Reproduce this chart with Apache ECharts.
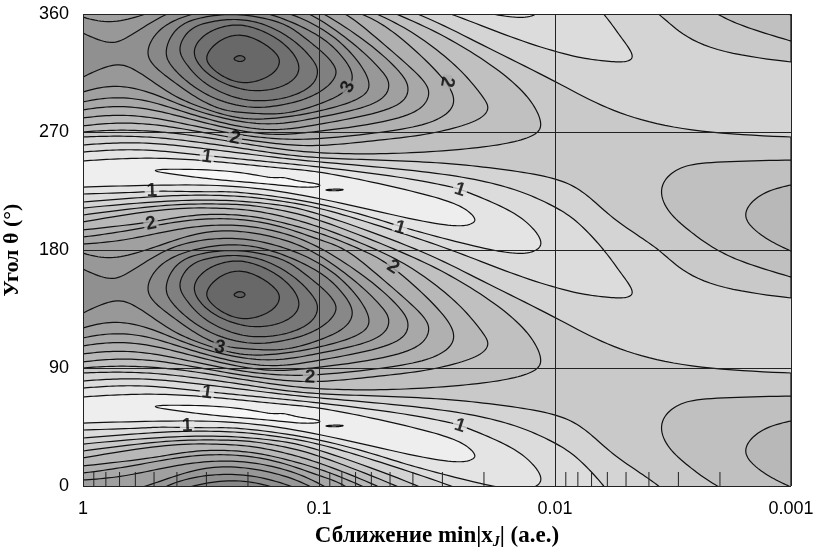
<!DOCTYPE html>
<html><head><meta charset="utf-8">
<style>html,body{margin:0;padding:0;background:#fff}#c{width:815px;height:550px}</style>
<script src="https://cdn.jsdelivr.net/npm/echarts@6/dist/echarts.min.js"></script>
</head><body><div id="c"></div>
<script>
// Contours. Each point = [decades below 1 a.e., angle in degrees].
const O0 = [[.64,146.4],[.665,148.7],[.691,146.1],[.669,143.4],[.644,144.9]];
const O1 = [[.521,148],[.568,158.6],[.653,164.7],[.742,160.2],[.814,151],[.835,143.4],[.809,135],[.742,128.9],[.665,127.4],[.589,132.7],[.538,140.3]];
const O2 = [[.462,151],[.517,164.7],[.602,170.8],[.686,171.6],[.792,164.7],[.877,153.3],[.919,140.3],[.894,129.7],[.814,122.8],[.708,121.3],[.602,126.6],[.517,135.8]];
const O3 = [[.403,153.3],[.453,168.6],[.538,173.9],[.644,176.2],[.771,172.4],[.898,159.4],[.975,144.9],[.996,135.8],[.97,125.1],[.877,116.7],[.758,113.6],[.644,115.9],[.517,126.6],[.445,140.3]];
const O4 = [[.347,151.8],[.398,170.1],[.508,177.7],[.665,180],[.835,173.9],[.919,164.7],[1.004,152.5],[1.047,144.9],[1.076,136.5],[1.055,128.1],[1.004,120.5],[.919,113.6],[.792,109.1],[.686,109.1],[.559,115.2],[.453,126.6],[.377,139.6]];
const O5 = [[.271,149.5],[.297,162.5],[.369,173.9],[.496,181.5],[.665,184.6],[.835,177.7],[1.004,163.2],[1.089,149.5],[1.148,133.5],[1.11,120.5],[1.004,111.4],[.856,103.7],[.708,104.5],[.589,106.8],[.475,116.7],[.369,130.4],[.305,139.6]];
const C6 = [[0,165.5],[.114,157.1],[.199,163.2],[.347,180],[.496,187.6],[.665,189.1],[.835,183],[1.004,170.1],[1.131,151.8],[1.22,128.1],[1.174,115.2],[1.004,106],[.835,100.7],[.665,99.9],[.496,109.1],[.369,119],[.22,138],[.127,141.9],[0,131.9]];
const C7 = [[0,177.7],[.114,173.1],[.271,180],[.453,191.4],[.623,195.3],[.835,189.1],[1.004,176.2],[1.174,153.3],[1.258,138],[1.301,126.6],[1.25,111.4],[1.004,101.4],[.835,96.1],[.665,97.6],[.453,107.5],[.284,120.5],[.127,125.8],[0,120.5]];
const C8 = [[0,184.6],[.157,186.9],[.339,193.7],[.496,198.3],[.665,199.1],[.835,193.7],[1.004,182.3],[1.216,157.1],[1.343,135.8],[1.381,122.8],[1.322,107.5],[1.004,96.1],[.835,91.5],[.665,93.8],[.453,103.7],[.284,113.6],[.127,116.7],[0,112.9]];
const C9 = [[0,189.9],[.157,193.7],[.339,199.8],[.496,203.6],[.665,203.6],[.835,198.3],[1.004,187.6],[1.118,180],[1.258,159.4],[1.428,132.7],[1.47,119],[1.407,103.7],[1.174,94.6],[1.004,90.8],[.835,87.7],[.665,90.8],[.453,99.9],[.284,107.5],[.127,109.8],[0,106.8]];
const C10 = [[0,195.3],[.263,200.6],[.411,205.2],[.551,207.5],[.708,205.9],[.835,201.4],[1.004,193],[1.182,180],[1.314,167],[1.513,134.2],[1.58,113.6],[1.513,99.9],[1.343,91.5],[1.004,84.7],[.835,84.7],[.665,87.7],[.453,95.3],[.284,101.4],[.127,103],[0,100.7]];
const C11 = [[0,201.4],[.339,211.3],[.551,212],[.708,210.5],[.856,205.2],[1.004,197.5],[1.25,180],[1.428,162.5],[1.597,138],[1.691,117.5],[1.72,107.5],[1.661,97.6],[1.47,88.5],[1.258,83.9],[1.004,79.3],[.835,80.8],[.665,84.7],[.453,91.5],[.284,96.1],[.127,96.9],[0,94.6]];
const C12 = [[0,206.7],[.339,214.3],[.551,215.1],[.708,214.3],[.856,209.7],[1.004,202.9],[1.331,180],[1.555,160.9],[1.767,136.5],[1.894,115.2],[1.945,96.1],[1.907,86.9],[1.767,80.1],[1.525,75.5],[1.258,73.2],[1.004,74],[.835,77],[.665,81.6],[.453,87.7],[.284,90.8],[.127,91.5],[0,90]];
const BCupper = [[0,212],[.339,217.4],[.606,218.1],[.835,214.3],[1.004,207.5],[1.428,180],[1.682,157.1],[2,128.9],[2.242,106],[2.564,90.8],[3,86.2]];
const BClower = [[3,-36.6],[2.636,-26.7],[2.466,-3.8],[2.394,6.1],[2.242,24.4],[2.127,43.5],[2,54.9],[1.767,61.8],[1.525,66.4],[1.258,68.6],[1.004,70.2],[.835,73.2],[.665,77.8],[.453,83.1],[.284,86.2],[.127,86.9],[0,86.2]];
const R1 = [[3,68.6],[2.665,67.1],[2.521,62.5],[2.445,48],[2.479,29],[2.593,11.4],[2.686,0],[2.805,-9.9],[3,-20.6]];
const R2 = [[3,49.6],[2.877,43.5],[2.801,29],[2.835,16.8],[2.919,6.1],[3,-.8]];
const A = [[0,80.1],[.127,81.6],[.284,81.6],[.453,78.6],[.665,74],[.835,70.2],[1.004,67.1],[1.343,61.8],[1.64,54.9],[1.852,45],[2,32.8],[2.097,21.4],[2.208,0],[2.275,-16.8],[2.335,-32],[2.297,-36.6],[2.212,-35.8],[2.064,-32],[1.809,-17.5],[1.564,0],[1.258,18.3],[1.004,32],[.835,37.4],[.665,41.2],[.453,41.9],[.271,40.4],[0,36.6]];
const F1 = [[0,74.7],[.127,76.3],[.284,76.3],[.496,72.5],[.665,69.4],[.835,66.4],[1.004,63.3],[1.343,55.7],[1.564,48],[1.627,44.2],[1.809,30.5],[1.907,16.8],[1.945,5.3],[1.915,-.8],[1.839,-3],[1.669,2.3],[1.381,16],[1.314,19.8],[1.004,35.8],[.665,44.2],[.551,44.2],[.326,45],[.263,44.2],[0,42.7]];
const F2 = [[0,67.9],[.127,69.4],[.326,70.2],[.538,67.9],[.708,64.8],[.877,61.8],[1.004,59.5],[1.246,51.1],[1.525,38.9],[1.627,30.5],[1.665,22.9],[1.64,19.8],[1.597,18.3],[1.441,21.4],[1,39.7],[.665,48.8],[.339,49.6],[0,48]];
const F3 = [[.292,60.3],[.369,61.8],[.636,60.3],[.792,54.9],[.847,55.7],[.907,52.6],[1.004,50.3],[.992,48],[.907,48],[.792,50.3],[.581,53.4],[.441,56.4]];
const F3b = [[1.021,45.8],[1.068,46.5],[1.11,46.1],[1.068,45]];

const basinOffsets = [-180, 0, 180, 360];
const ridgeOffsets = [0, 180, 360];
const xTickValues = [1, 0.1, 0.01, 0.001];
const yTicks = [0, 90, 180, 270, 360];
const minorTicks = [.9,.8,.7,.6,.5,.4,.3,.2,.09,.08,.07,.06,.05,.04,.03,.02,.009,.008,.007,.006,.005,.004,.003,.002];

// [contour level, gray of the band inside, runs, closed loop?, offsets]
const layers = [
  [1.4,'#c9c9c9',[BCupper,BClower],false,basinOffsets],
  [1.6,'#c0c0c0',[R1],false,basinOffsets],
  [1.8,'#b8b8b8',[R2],false,basinOffsets],
  [1.6,'#c0c0c0',[C12],false,basinOffsets],
  [1.8,'#b8b8b8',[C11],false,basinOffsets],
  [2.0,'#b0b0b0',[C10],false,basinOffsets],
  [2.2,'#a8a8a8',[C9],false,basinOffsets],
  [2.4,'#a0a0a0',[C8],false,basinOffsets],
  [2.6,'#989898',[C7],false,basinOffsets],
  [2.8,'#909090',[C6],false,basinOffsets],
  [3.0,'#888888',[O5],true,basinOffsets],
  [3.2,'#808080',[O4],true,basinOffsets],
  [3.4,'#787878',[O3],true,basinOffsets],
  [3.6,'#707070',[O2],true,basinOffsets],
  [3.8,'#686868',[O1],true,basinOffsets],
  [4.0,'#606060',[O0],true,basinOffsets],
  [1.2,'#dcdcdc',[A],false,ridgeOffsets],
  [1.0,'#e4e4e4',[F1],false,ridgeOffsets],
  [0.8,'#eeeeee',[F2],false,ridgeOffsets],
  [0.6,'#f7f7f7',[F3],true,ridgeOffsets],
  [0.6,'#f7f7f7',[F3b],true,ridgeOffsets]
];
const contourItems = [];
layers.forEach(l => l[4].forEach(off => contourItems.push({runs:l[2],closed:l[3],fill:l[1],off})));

// contour labels: text, decades, angle, rotation, band gray behind
const labelTexts = ['3','2','2','1','1','2','1','1','2','3','2','1','1','1'];
const labelDecades = [1.123,1.542,.644,.525,.292,.288,1.597,1.343,1.314,.58,.962,.525,.441,1.597];
const labelAngles = [304.3,308.2,265.4,251,225.2,200,225.8,196.8,167,105.6,83,71.2,45.8,45.8];
const labelRotations = [65,-100,-12,-8,2,12,-18,-16,-32,-12,-3,-8,2,-18];
const labelBacks = ['#8c8c8c','#acacac','#acacac','#e0e0e0','#e2e2e2','#b0b0b0','#e0e0e0','#e2e2e2','#acacac','#8a8a8a','#b0b0b0','#e0e0e0','#e2e2e2','#e0e0e0'];

function spline(p, closed) {
  const n = p.length, raw = [], S = 10;
  const g = i => closed ? p[(i + n) % n] : p[Math.max(0, Math.min(n - 1, i))];
  const segs = closed ? n : n - 1;
  for (let i = 0; i < segs; i++) {
    const a = g(i - 1), b = g(i), c = g(i + 1), d = g(i + 2);
    for (let k = 0; k < S; k++) {
      const t = k / S, t2 = t * t, t3 = t2 * t;
      raw.push([0, 1].map(j =>
        0.5 * (2 * b[j] + (c[j] - a[j]) * t + (2 * a[j] - 5 * b[j] + 4 * c[j] - d[j]) * t2 + (3 * b[j] - a[j] - 3 * c[j] + d[j]) * t3)));
    }
  }
  if (!closed) raw.push(p[n - 1]);
  // round the drawn curve with a short moving average of its samples
  let cur = raw;
  const m = cur.length, W = 4;
  for (let pass = 0; pass < 2; pass++) {
    cur = cur.map((q, i) => {
      if (!closed && (i === 0 || i === m - 1)) return q;
      let w = closed ? W : Math.min(W, i, m - 1 - i), sx = 0, sy = 0, c = 0;
      for (let k = -w; k <= w; k++) { const r = cur[(i + k + m) % m]; sx += r[0]; sy += r[1]; c++; }
      return [sx / c, sy / c];
    });
  }
  return cur;
}
const toX = d => Math.pow(10, -d);

const chart = echarts.init(document.getElementById('c'), null, {renderer:'canvas'});
const serif = '"Liberation Serif","Times New Roman",serif';
const sans = '"Liberation Sans",Arial,sans-serif';
chart.setOption({
  animation:false,
  backgroundColor:'#fff',
  grid:{left:83,right:24,top:14,bottom:64,show:true,backgroundColor:'#d4d4d4',borderWidth:0,outerBoundsMode:'none',containLabel:false},
  xAxis:{type:'log',logBase:10,min:0.001,max:1,inverse:true,z:5,
    axisLine:{show:false},axisTick:{show:false},minorTick:{show:false},
    splitLine:{show:true,showMinLine:true,showMaxLine:true,lineStyle:{color:'#222',width:1}},
    axisLabel:{color:'#000',fontFamily:sans,fontSize:18,margin:14,showMinLabel:true,showMaxLabel:true,hideOverlap:false,
      formatter:v=>{const m=xTickValues.find(t=>Math.abs(Math.log10(t)-Math.log10(v))<1e-6);return m===undefined?'':String(m);}},
    name:'{a|Сближение min|x}{j|J}{a|| (а.е.)}',nameLocation:'middle',nameGap:38,
    nameTextStyle:{rich:{
      a:{fontFamily:serif,fontWeight:'bold',fontSize:23,color:'#000'},
      j:{fontFamily:serif,fontWeight:'bold',fontStyle:'italic',fontSize:14,color:'#000',padding:[11,0,0,0]}}}
  },
  yAxis:{type:'value',min:yTicks[0],max:yTicks[4],interval:90,z:5,
    axisLine:{show:false},axisTick:{show:false},
    splitLine:{show:true,showMinLine:true,showMaxLine:true,lineStyle:{color:'#222',width:1}},
    axisLabel:{color:'#000',fontFamily:sans,fontSize:18,margin:14},
    name:'Угол θ (°)',nameLocation:'middle',nameGap:60,
    nameTextStyle:{fontFamily:serif,fontWeight:'bold',fontSize:22,color:'#000'}
  },
  series:[
    {type:'custom',coordinateSystem:'cartesian2d',clip:true,z:2,silent:true,
     data:contourItems.map((c,i)=>[toX(c.runs[0][0][0]),c.runs[0][0][1]+c.off,i]),
     encode:{x:0,y:1},
     renderItem:(params,api)=>{
       const c=contourItems[params.dataIndex];
       let pts=[];
       c.runs.forEach(run=>{
         const px=run.map(p=>api.coord([toX(p[0]),p[1]+c.off]));
         pts=pts.concat(spline(px,c.closed));
       });
       return {type:'polygon',shape:{points:pts},style:{fill:c.fill,stroke:'#111',lineWidth:1.2}};
     }},
    {type:'custom',coordinateSystem:'cartesian2d',clip:true,z:6,silent:true,
     data:minorTicks.map(v=>[v,0]),encode:{x:0,y:1},
     renderItem:(params,api)=>{
       const p=api.coord([api.value(0),0]);
       return {type:'line',shape:{x1:p[0],y1:p[1],x2:p[0],y2:p[1]-14},style:{stroke:'#222',lineWidth:1}};
     }},
    {type:'scatter',symbolSize:1,z:7,silent:true,itemStyle:{color:'rgba(0,0,0,0)'},
     data:labelTexts.map((t,i)=>({value:[toX(labelDecades[i]),labelAngles[i]],
       label:{show:true,position:'inside',formatter:t,rotate:labelRotations[i],color:'#000',textBorderWidth:0,textBorderColor:'transparent',
         fontFamily:sans,fontWeight:'bold',fontSize:19,backgroundColor:labelBacks[i],padding:[0,2],lineHeight:9}}))}
  ]
});
</script></body></html>
